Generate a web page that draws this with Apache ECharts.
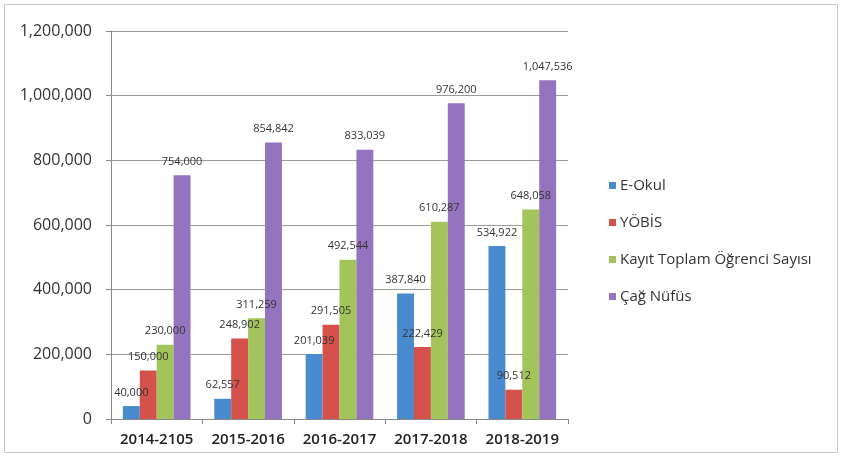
<!DOCTYPE html>
<html><head><meta charset="utf-8">
<script src="https://cdn.jsdelivr.net/npm/echarts@6/dist/echarts.min.js"></script>
<style>html,body{margin:0;padding:0;background:#fff}#c{width:843px;height:464px}</style>
</head><body><div id="c"></div>
<script>
const categories = ['2014-2105','2015-2016','2016-2017','2017-2018','2018-2019'];
const eOkul = [40000, 62557, 201039, 387840, 534922];
const yobis = [150000, 248902, 291505, 222429, 90512];
const kayit = [230000, 311259, 492544, 610287, 648058];
const cag = [754000, 854842, 833039, 976200, 1047536];
const seriesNames = ['E-Okul','YÖBİS','Kayıt Toplam Öğrenci Sayısı','Çağ Nüfüs'];
const colors = ['#4a8bd0','#d5524c','#a2c45a','#9474bf'];
const yTicks = [0,200000,400000,600000,800000,1000000,1200000];

const fmt = v => v.toLocaleString('en-US');
const chart = echarts.init(document.getElementById('c'));
const data = [eOkul, yobis, kayit, cag];
chart.setOption({
  animation:false,
  textStyle:{fontFamily:'Open Sans'},
  graphic:[{type:'rect',shape:{x:4.5,y:4.5,width:833,height:448},style:{fill:'none',stroke:'#c8c8c8',lineWidth:1}}],
  grid:{left:111,right:275,top:31,bottom:45},
  legend:{orient:'vertical',left:604,top:173,itemWidth:7,itemHeight:7,itemGap:22,icon:'rect',
    textStyle:{fontSize:15,color:'#333',fontFamily:'Open Sans',padding:[0,0,0,-1]},data:seriesNames},
  xAxis:{type:'category',data:categories,
    axisLine:{lineStyle:{color:'#888'}},
    axisTick:{show:true,length:5,lineStyle:{color:'#888'}},
    axisLabel:{interval:0,fontSize:15,color:'#222',margin:13,fontWeight:600,fontFamily:'Open Sans'}},
  yAxis:{type:'value',min:yTicks[0],max:yTicks[yTicks.length-1],interval:200000,
    axisLine:{show:true,lineStyle:{color:'#888'}},
    axisTick:{show:true,length:5,lineStyle:{color:'#888'}},
    splitLine:{lineStyle:{color:'#9a9a9a'}},
    axisLabel:{fontSize:16,color:'#333',margin:19,formatter:fmt}},
  series: data.map((d,i)=>({
    name:seriesNames[i],type:'bar',data:d,barGap:'0%',barCategoryGap:'26%',
    itemStyle:{color:colors[i]},
    label:{show:true,position:'top',distance:8,fontSize:11,color:'#333',formatter:p=>fmt(p.value)}
  }))
});
</script></body></html>
